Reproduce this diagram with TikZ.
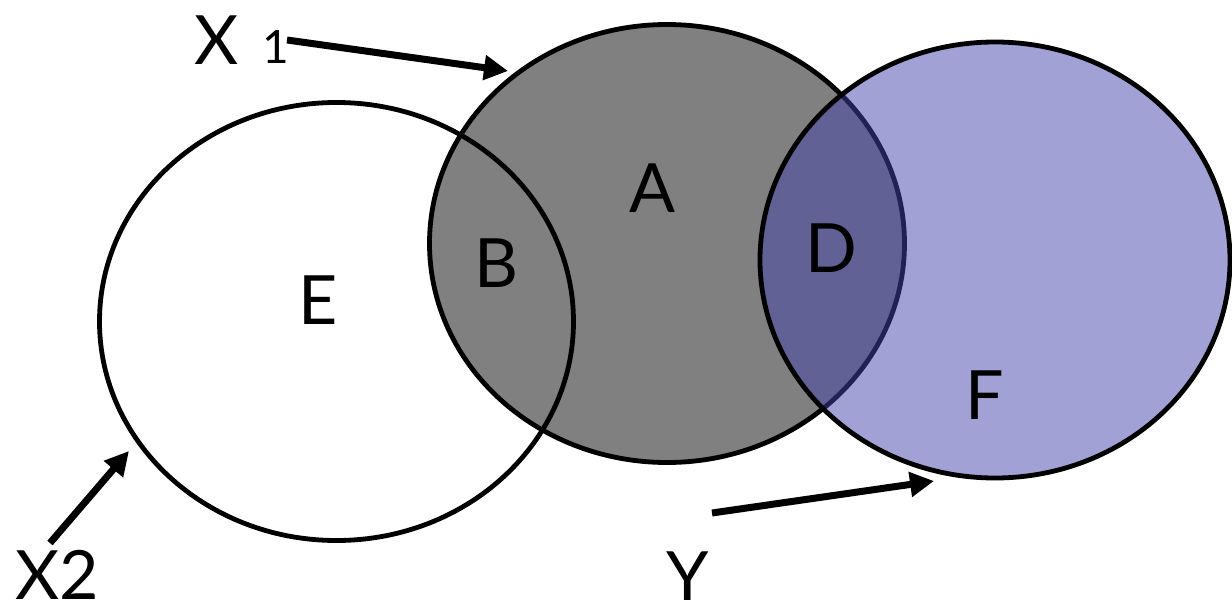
\documentclass[tikz,border=0pt]{standalone}
\usepackage{fontspec}
\setmainfont{Lato}
\usetikzlibrary{arrows.meta}
\definecolor{grayfill}{RGB}{128,128,128}
\definecolor{bluefill}{RGB}{67,67,171}
\tikzset{
  setline/.style={line width=4.8pt},
  lbl/.style={inner sep=0pt, font=\fontsize{68}{68}\selectfont},
  ptr/.style={line width=7pt, -{Triangle[length=24pt,width=24pt]}},
}
\begin{document}
\begin{tikzpicture}[x=1pt,y=-1pt]
\useasboundingbox (0,0) rectangle (1232,605);
% gray set X1
\fill[grayfill] (667,243.5) ellipse [x radius=237.5, y radius=219];
% white set X2 outline
\draw[setline] (336.5,321.5) ellipse [x radius=237, y radius=219];
\draw[setline] (667,243.5) ellipse [x radius=237.5, y radius=219];
% blue set Y
\fill[bluefill, fill opacity=0.5] (995,260) ellipse [x radius=235, y radius=218];
\draw[setline] (995,260) ellipse [x radius=235, y radius=218];
% region labels
\node[lbl] (A) at (653,188) {A};
\node[lbl] (B) at (496,263) {B};
\node[lbl] (D) at (831,248) {D};
\node[lbl] (E) at (318,300) {E};
\node[lbl] (F) at (985,395) {F};
% set labels
\node[lbl] (X) at (217,40) {X};
\node[inner sep=0pt, font=\fontsize{46}{46}\selectfont, anchor=south] (one) at (276,64) {1};
\node[lbl] (X2) at (57,575) {X2};
\node[lbl] (Y) at (688,576) {Y};
% pointers
\coordinate (p1s) at (287,40);
\coordinate (p1e) at (508,71);
\coordinate (p2s) at (50,543);
\coordinate (p2e) at (129,451);
\coordinate (p3s) at (712,513);
\coordinate (p3e) at (934,481);
\draw[ptr] (p1s) -- (p1e);
\draw[ptr] (p2s) -- (p2e);
\draw[ptr] (p3s) -- (p3e);
\end{tikzpicture}
\end{document}
